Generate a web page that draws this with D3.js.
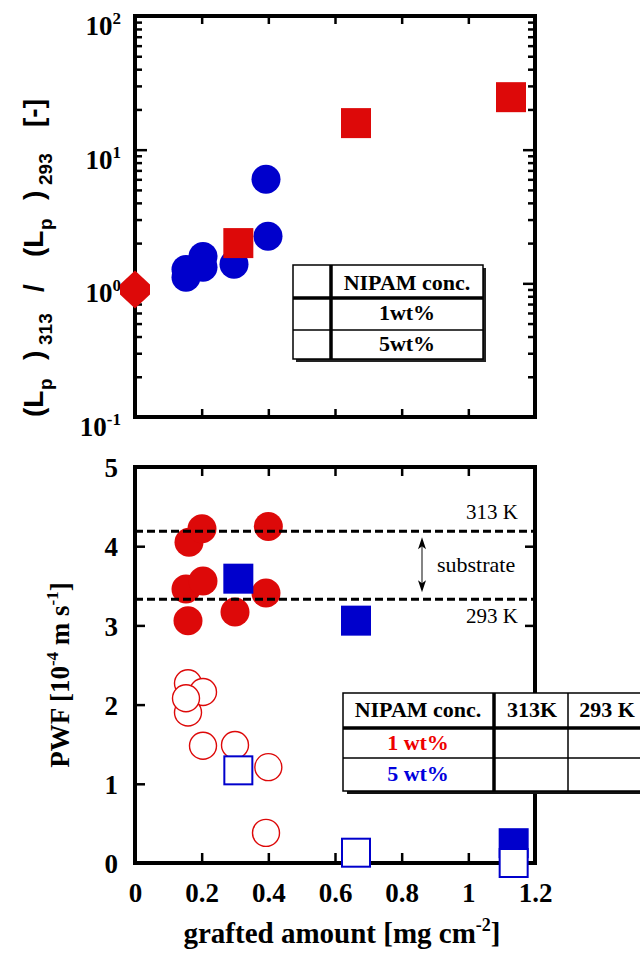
<!DOCTYPE html>
<html>
<head>
<meta charset="utf-8">
<script src="https://cdn.jsdelivr.net/npm/d3@7"></script>
<style>
  body { margin: 0; background: #fff; }
  svg { display: block; }
  text { font-family: "Liberation Serif", "Times New Roman", serif; font-weight: bold; fill: #000; }
</style>
</head>
<body>
<div id="chart"></div>
<script>
// ---------------- data ----------------
// top panel: (Lp)313 / (Lp)293 ratio
const ratioDiamondX = [0];
const ratioDiamondY = [0.9];
const ratioSquareX = [0.31, 0.663, 1.128];
const ratioSquareY = [2.0, 15.8, 24.7];
const ratioCircleX = [0.153, 0.153, 0.204, 0.204, 0.297, 0.393, 0.399];
const ratioCircleY = [1.27, 1.11, 1.59, 1.32, 1.39, 6.0, 2.25];

// bottom panel: PWF [1e-4 m/s]
const pwf1wt313X = [0.162, 0.201, 0.40, 0.153, 0.204, 0.159, 0.300, 0.393];
const pwf1wt313Y = [4.05, 4.22, 4.25, 3.46, 3.56, 3.06, 3.17, 3.41];
const pwf1wt293X = [0.159, 0.204, 0.159, 0.153, 0.204, 0.300, 0.40, 0.393];
const pwf1wt293Y = [2.27, 2.16, 1.90, 2.08, 1.48, 1.49, 1.21, 0.38];
const pwf5wt313X = [0.31, 0.663, 1.136];
const pwf5wt313Y = [3.59, 3.06, 0.25];
const pwf5wt293X = [0.31, 0.663, 1.136];
const pwf5wt293Y = [1.17, 0.13, 0.0];

// substrate reference lines
const substrateLabels = ["313 K", "293 K"];
const substrateValues = [4.19, 3.33];

// ticks
const xTickValues = [0, 0.2, 0.4, 0.6, 0.8, 1, 1.2];
const pwfTickValues = [0, 1, 2, 3, 4, 5];
const logMajor = [0.1, 1, 10, 100];
const logExponents = ["-1", "0", "1", "2"];
const logMinor = [2, 3, 4, 5, 6, 7, 8, 9].flatMap(m => [m * 0.1, m, m * 10]);

const legendTopRows = ["NIPAM conc.", "1wt%", "5wt%"];
const legendBottomHeader = ["NIPAM conc.", "313K", "293 K"];
const legendBottomRows = ["1 wt%", "5 wt%"];

// ---------------- setup ----------------
const red = "#dd0909";
const blue = "#0000cc";

const svg = d3.select("#chart").append("svg")
    .attr("width", 640)
    .attr("height", 956);

const x = d3.scaleLinear().domain([0, 1.2]).range([135, 535]);
const yTop = d3.scaleLog().domain([0.1, 100]).range([417, 16]);
const yBot = d3.scaleLinear().domain([0, 5]).range([863, 467]);

function styleAxis(g) {
    g.select(".domain").remove();
    g.selectAll(".tick line").attr("stroke", "#000").attr("stroke-width", 2.5);
}

// ================================================
// TOP PANEL
// ================================================
const topPanel = svg.append("g");

topPanel.append("g").attr("transform", "translate(135,0)")
    .call(d3.axisLeft(yTop).tickValues(logMajor).tickSize(-12).tickFormat(""))
    .call(styleAxis);
topPanel.append("g").attr("transform", "translate(135,0)")
    .call(d3.axisLeft(yTop).tickValues(logMinor).tickSize(-7).tickFormat(""))
    .call(styleAxis);
topPanel.append("g").attr("transform", "translate(535,0)")
    .call(d3.axisRight(yTop).tickValues(logMajor).tickSize(-12).tickFormat(""))
    .call(styleAxis);
topPanel.append("g").attr("transform", "translate(535,0)")
    .call(d3.axisRight(yTop).tickValues(logMinor).tickSize(-7).tickFormat(""))
    .call(styleAxis);
topPanel.append("g").attr("transform", "translate(0,16)")
    .call(d3.axisTop(x).tickValues(xTickValues).tickSize(-8).tickFormat(""))
    .call(styleAxis);
topPanel.append("g").attr("transform", "translate(0,417)")
    .call(d3.axisBottom(x).tickValues(xTickValues).tickSize(-8).tickFormat(""))
    .call(styleAxis);

// log tick labels 10^n
const logLabels = topPanel.append("g").selectAll("text")
    .data(logMajor)
    .join("text")
    .attr("x", 121)
    .attr("y", d => yTop(d) + 19)
    .attr("text-anchor", "end")
    .style("font-size", "27px");
logLabels.append("tspan").text("10");
logLabels.append("tspan")
    .attr("dy", -11)
    .style("font-size", "17px")
    .text((d, i) => logExponents[i]);

topPanel.append("rect")
    .attr("x", 135).attr("y", 16)
    .attr("width", 400).attr("height", 401)
    .attr("fill", "none").attr("stroke", "#000").attr("stroke-width", 4);

// markers
topPanel.append("g").selectAll("circle")
    .data(ratioCircleX.map((d, i) => [d, ratioCircleY[i]]))
    .join("circle")
    .attr("cx", d => x(d[0]))
    .attr("cy", d => yTop(d[1]))
    .attr("r", 14.5)
    .attr("fill", blue);

topPanel.append("g").selectAll("rect")
    .data(ratioSquareX.map((d, i) => [d, ratioSquareY[i]]))
    .join("rect")
    .attr("x", d => x(d[0]) - 15)
    .attr("y", d => yTop(d[1]) - 15)
    .attr("width", 30).attr("height", 30)
    .attr("fill", red);

topPanel.append("g").selectAll("path")
    .data(ratioDiamondX.map((d, i) => [d, ratioDiamondY[i]]))
    .join("path")
    .attr("transform", d => `translate(${x(d[0])},${yTop(d[1])})`)
    .attr("d", "M0,-19 L15,-5 L15,5 L0,19 L-15,5 L-15,-5 Z")
    .attr("fill", red);

// legend table (top)
const lt = topPanel.append("g");
lt.append("rect").attr("x", 296).attr("y", 268).attr("width", 190).attr("height", 94).attr("fill", "#222");
lt.append("rect").attr("x", 293).attr("y", 265).attr("width", 190).attr("height", 94)
    .attr("fill", "#fff").attr("stroke", "#000").attr("stroke-width", 1.5);
lt.append("line").attr("x1", 331).attr("x2", 331).attr("y1", 265).attr("y2", 359)
    .attr("stroke", "#000").attr("stroke-width", 3.5);
lt.append("line").attr("x1", 293).attr("x2", 483).attr("y1", 298).attr("y2", 298)
    .attr("stroke", "#000").attr("stroke-width", 3.5);
lt.append("line").attr("x1", 293).attr("x2", 483).attr("y1", 330).attr("y2", 330)
    .attr("stroke", "#000").attr("stroke-width", 1.5);
lt.selectAll("text")
    .data(legendTopRows)
    .join("text")
    .attr("x", 407)
    .attr("y", (d, i) => [290, 320, 351][i])
    .attr("text-anchor", "middle")
    .style("font-size", "22px")
    .text(d => d);

// y title (top), sans bold with subscripts
const tt = topPanel.append("g").attr("transform", "translate(43,417) rotate(-90)");
const titlePieces = [
    {t: "(L", at: 0}, {t: "p", at: 27, sub: true},
    {t: ")", at: 57}, {t: "313", at: 72, sub: true},
    {t: "/", at: 125},
    {t: "(L", at: 160}, {t: "p", at: 187, sub: true},
    {t: ")", at: 217}, {t: "293", at: 232, sub: true},
    {t: "[-]", at: 290}
];
tt.selectAll("text")
    .data(titlePieces)
    .join("text")
    .attr("x", d => d.at)
    .attr("y", d => d.sub ? 9 : 0)
    .style("font-family", "'Liberation Sans', Arial, sans-serif")
    .style("font-size", d => d.sub ? "19px" : "28px")
    .text(d => d.t);

// ================================================
// BOTTOM PANEL
// ================================================
const bot = svg.append("g");

bot.append("g").attr("transform", "translate(135,0)")
    .call(d3.axisLeft(yBot).tickValues(pwfTickValues).tickSize(-10).tickPadding(17).tickFormat(d3.format("d")))
    .call(styleAxis)
    .call(g => g.selectAll("text").style("font-size", "27px").attr("dy", "0.36em"));
bot.append("g").attr("transform", "translate(535,0)")
    .call(d3.axisRight(yBot).tickValues(pwfTickValues).tickSize(-10).tickFormat(""))
    .call(styleAxis);
bot.append("g").attr("transform", "translate(0,467)")
    .call(d3.axisTop(x).tickValues(xTickValues).tickSize(-9).tickFormat(""))
    .call(styleAxis);
bot.append("g").attr("transform", "translate(0,863)")
    .call(d3.axisBottom(x).tickValues(xTickValues).tickSize(-10).tickPadding(20).tickFormat(d3.format("~g")))
    .call(styleAxis)
    .call(g => g.selectAll("text").style("font-size", "27px"));

bot.append("rect")
    .attr("x", 135).attr("y", 467)
    .attr("width", 400).attr("height", 396)
    .attr("fill", "none").attr("stroke", "#000").attr("stroke-width", 4);

// 1 wt% filled circles (313 K)
bot.append("g").selectAll("circle")
    .data(pwf1wt313X.map((d, i) => [d, pwf1wt313Y[i]]))
    .join("circle")
    .attr("cx", d => x(d[0]))
    .attr("cy", d => yBot(d[1]))
    .attr("r", 14.5)
    .attr("fill", red);

// 1 wt% open circles (293 K)
bot.append("g").selectAll("circle")
    .data(pwf1wt293X.map((d, i) => [d, pwf1wt293Y[i]]))
    .join("circle")
    .attr("cx", d => x(d[0]))
    .attr("cy", d => yBot(d[1]))
    .attr("r", 13.5)
    .attr("fill", "#fff")
    .attr("stroke", red)
    .attr("stroke-width", 1.4);

// 5 wt% filled squares (313 K)
bot.append("g").selectAll("rect")
    .data(pwf5wt313X.map((d, i) => [d, pwf5wt313Y[i]]))
    .join("rect")
    .attr("x", d => x(d[0]) - 15)
    .attr("y", d => yBot(d[1]) - 15)
    .attr("width", 30).attr("height", 30)
    .attr("fill", blue);

// 5 wt% open squares (293 K)
bot.append("g").selectAll("rect")
    .data(pwf5wt293X.map((d, i) => [d, pwf5wt293Y[i]]))
    .join("rect")
    .attr("x", d => x(d[0]) - 14)
    .attr("y", d => yBot(d[1]) - 14)
    .attr("width", 28).attr("height", 28)
    .attr("fill", "#fff")
    .attr("stroke", blue)
    .attr("stroke-width", 2);

// substrate dashed lines
bot.append("g").selectAll("line")
    .data(substrateValues)
    .join("line")
    .attr("x1", x(0)).attr("x2", x(1.2))
    .attr("y1", d => yBot(d)).attr("y2", d => yBot(d))
    .attr("stroke", "#000")
    .attr("stroke-width", 3)
    .attr("stroke-dasharray", "8,4");

bot.append("g").selectAll("text")
    .data(substrateLabels)
    .join("text")
    .attr("x", 518)
    .attr("y", (d, i) => i === 0 ? yBot(substrateValues[0]) - 12 : yBot(substrateValues[1]) + 24)
    .attr("text-anchor", "end")
    .style("font-weight", "normal")
    .style("font-size", "21px")
    .text(d => d);

// double arrow + "substrate"
const ax = 422;
const a0 = yBot(substrateValues[0]) + 6;
const a1 = yBot(substrateValues[1]) - 7;
bot.append("line")
    .attr("x1", ax).attr("x2", ax).attr("y1", a0 + 6).attr("y2", a1 - 6)
    .attr("stroke", "#333").attr("stroke-width", 1.2);
bot.append("path")
    .attr("d", `M${ax},${a0} L${ax + 4},${a0 + 12} L${ax},${a0 + 9} L${ax - 4},${a0 + 12} Z`)
    .attr("fill", "#000");
bot.append("path")
    .attr("d", `M${ax},${a1} L${ax + 4},${a1 - 12} L${ax},${a1 - 9} L${ax - 4},${a1 - 12} Z`)
    .attr("fill", "#000");
bot.append("text")
    .attr("x", 437)
    .attr("y", (yBot(substrateValues[0]) + yBot(substrateValues[1])) / 2 + 7)
    .style("font-weight", "normal")
    .style("font-size", "22px")
    .text("substrate");

// legend table (bottom)
const lb = bot.append("g");
lb.append("rect").attr("x", 347).attr("y", 696).attr("width", 310).attr("height", 98).attr("fill", "#111");
lb.append("rect").attr("x", 343).attr("y", 693).attr("width", 310).attr("height", 98)
    .attr("fill", "#fff").attr("stroke", "#000").attr("stroke-width", 1.5);
lb.append("line").attr("x1", 494).attr("x2", 494).attr("y1", 693).attr("y2", 791)
    .attr("stroke", "#000").attr("stroke-width", 3.5);
lb.append("line").attr("x1", 568).attr("x2", 568).attr("y1", 693).attr("y2", 791)
    .attr("stroke", "#000").attr("stroke-width", 1.5);
lb.append("line").attr("x1", 343).attr("x2", 653).attr("y1", 728).attr("y2", 728)
    .attr("stroke", "#000").attr("stroke-width", 3.5);
lb.append("line").attr("x1", 343).attr("x2", 653).attr("y1", 758).attr("y2", 758)
    .attr("stroke", "#000").attr("stroke-width", 1.5);
lb.selectAll("text.h")
    .data(legendBottomHeader)
    .join("text")
    .attr("class", "h")
    .attr("x", (d, i) => [418, 532, 607][i])
    .attr("y", 717)
    .attr("text-anchor", "middle")
    .style("font-size", "22px")
    .text(d => d);
lb.selectAll("text.r")
    .data(legendBottomRows)
    .join("text")
    .attr("class", "r")
    .attr("x", 418)
    .attr("y", (d, i) => [750, 781][i])
    .attr("text-anchor", "middle")
    .style("font-size", "22px")
    .style("fill", (d, i) => i === 0 ? "#ee0000" : "#0000dd")
    .text(d => d);

// y title (bottom)
const yt = bot.append("text")
    .attr("transform", "translate(69,675) rotate(-90)")
    .attr("text-anchor", "middle")
    .style("font-size", "27px");
yt.append("tspan").text("PWF [10");
yt.append("tspan").attr("dy", -11).style("font-size", "17px").text("-4");
yt.append("tspan").attr("dy", 11).text(" m s");
yt.append("tspan").attr("dy", -11).style("font-size", "17px").text("-1");
yt.append("tspan").attr("dy", 11).text("]");

// x title
const xt = bot.append("text")
    .attr("x", 342)
    .attr("y", 943)
    .attr("text-anchor", "middle")
    .style("font-size", "29px");
xt.append("tspan").text("grafted amount [mg cm");
xt.append("tspan").attr("dy", -12).style("font-size", "18px").text("-2");
xt.append("tspan").attr("dy", 12).text("]");
</script>
</body>
</html>
